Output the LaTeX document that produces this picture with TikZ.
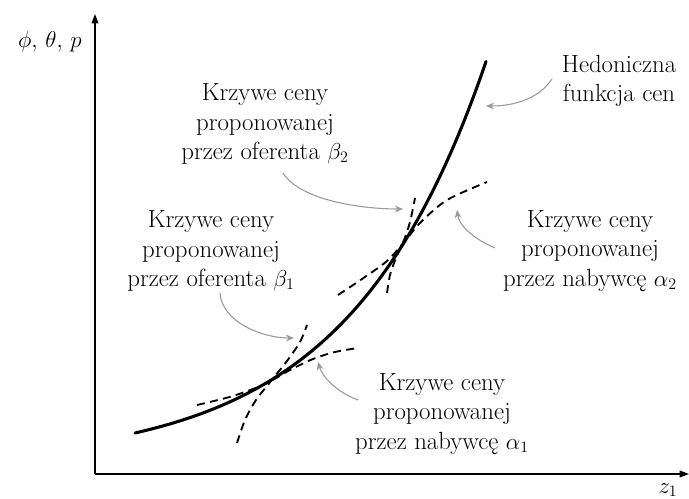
\documentclass[tikz,border=0pt]{standalone}
\usetikzlibrary{arrows.meta}
\begin{document}
\begin{tikzpicture}[x=0.75pt,y=-0.75pt,
  lbl/.style={align=center,font=\fontsize{18.6}{21.9}\selectfont,inner sep=0pt},
  axis/.style={line width=0.9pt,-{Triangle[length=7pt,width=5pt]}},
  hed/.style={line width=2.3pt,line cap=round},
  bid/.style={line width=1.4pt,dash pattern=on 6pt off 4pt},
  pointer/.style={draw=black!40,line width=0.8pt,-{Stealth[length=6pt,width=5pt]}}]
\useasboundingbox (0,0) rectangle (689,499);
% axes
\coordinate (O) at (95,474);
\coordinate (ytop) at (95,14);
\coordinate (xend) at (689,474);
\draw[axis] (O) -- (ytop);
\draw[axis] (O) -- (xend);
\node[lbl] (ylab) at (50,42) {$\phi,\,\theta,\,p$};
\node[lbl] (xlab) at (668,490) {$z_1$};
% hedonic price function
\draw[hed] plot[domain=135:486,samples=120,smooth] (\x,{474-9.7-31.3*exp(0.00728*(\x-135))});
% bid / offer curves
\draw[bid] plot[smooth] coordinates {(197,405) (233,396) (265,384) (290,370) (313,359) (335,352) (358,348)};
\draw[bid] plot[smooth] coordinates {(237,443) (245,420) (256,400) (271,381) (287,361) (300,342) (307,325)};
\draw[bid] plot[smooth] coordinates {(338,295) (362,279) (387,261) (405,241) (421,222) (447,200) (487,182)};
\draw[bid] plot[smooth] coordinates {(387,293) (390,275) (396,258) (404,240) (410,222) (415,198)};
% labels
\node[lbl] (nH) at (619,81) {Hedoniczna\\funkcja cen};
\node[lbl] (nB2) at (265,124) {Krzywe ceny\\proponowanej\\przez oferenta $\beta_2$};
\node[lbl] (nB1) at (211,251) {Krzywe ceny\\proponowanej\\przez oferenta $\beta_1$};
\node[lbl] (nA2) at (590,251) {Krzywe ceny\\proponowanej\\przez nabywcę $\alpha_2$};
\node[lbl] (nA1) at (442,414) {Krzywe ceny\\proponowanej\\przez nabywcę $\alpha_1$};
% pointer arrows
\coordinate (hS) at (552,79);  \coordinate (hE) at (486,106);
\coordinate (b2S) at (283,173); \coordinate (b2E) at (403,209);
\coordinate (a2S) at (495,248); \coordinate (a2E) at (457,210);
\coordinate (b1S) at (220,293); \coordinate (b1E) at (294,338);
\coordinate (a1S) at (358,400); \coordinate (a1E) at (318,362);
\draw[pointer] (hS) .. controls (538,100) and (512,106) .. (hE);
\draw[pointer] (b2S) .. controls (300,200) and (360,209) .. (b2E);
\draw[pointer] (a2S) .. controls (472,238) and (459,225) .. (a2E);
\draw[pointer] (b1S) .. controls (222,322) and (262,338) .. (b1E);
\draw[pointer] (a1S) .. controls (336,392) and (322,376) .. (a1E);
\end{tikzpicture}
\end{document}
